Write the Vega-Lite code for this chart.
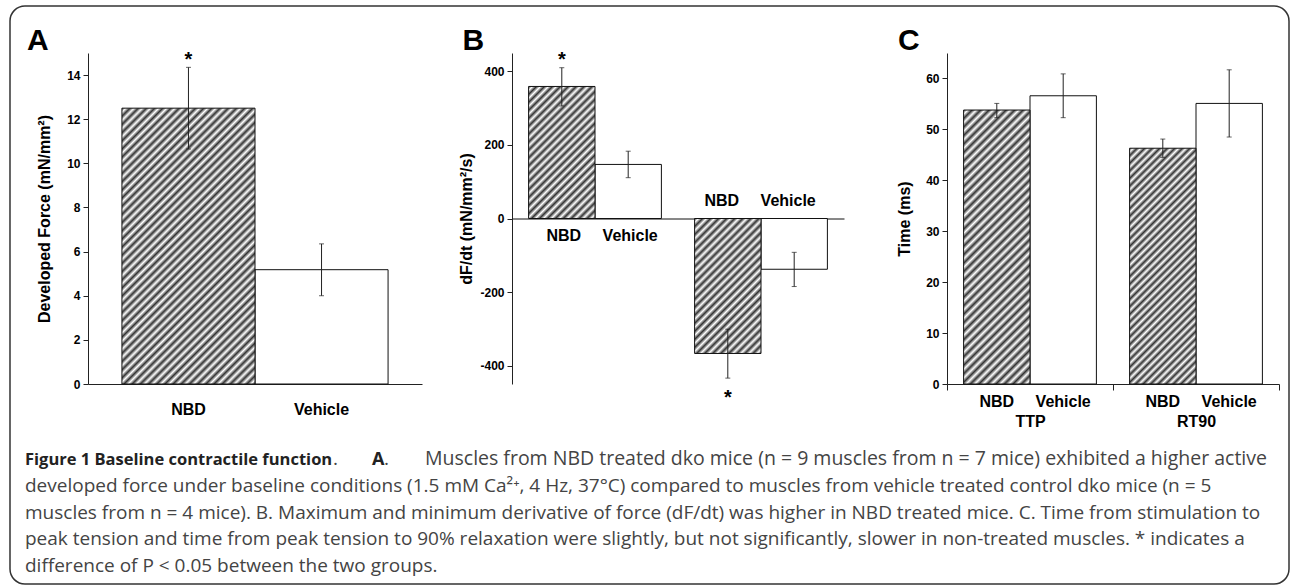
{
  "$schema": "https://vega.github.io/schema/vega-lite/v6.json",
  "width": 1279,
  "height": 578,
  "autosize": {"type": "none"},
  "padding": {"left": 10, "top": 6, "right": 1, "bottom": 1},
  "background": "white",
  "config": {
    "view": {"stroke": "#333", "strokeWidth": 1.5, "cornerRadius": 15},
    "axis": {
      "labelFont": "Liberation Sans", "titleFont": "Liberation Sans",
      "labelFontWeight": "bold", "titleFontWeight": "bold",
      "labelColor": "#000", "titleColor": "#000",
      "domainColor": "#222", "tickColor": "#222",
      "grid": false, "labelFontSize": 12, "titleFontSize": 16
    },
    "text": {"font": "Liberation Sans", "color": "#000"}
  },
  "datasets": {
    "A": [
      {"cond": "NBD", "mean": 12.5, "lo": 10.65, "hi": 14.35},
      {"cond": "Vehicle", "mean": 5.18, "lo": 4.0, "hi": 6.35}
    ],
    "B": [
      {"grp": "max", "cond": "NBD", "mean": 359, "lo": 306, "hi": 410},
      {"grp": "max", "cond": "Vehicle", "mean": 147, "lo": 111, "hi": 183},
      {"grp": "min", "cond": "NBD", "mean": -367, "lo": -434, "hi": -301},
      {"grp": "min", "cond": "Vehicle", "mean": -138, "lo": -185, "hi": -92}
    ],
    "C": [
      {"grp": "TTP", "cond": "NBD", "mean": 53.8, "lo": 52.3, "hi": 55.1},
      {"grp": "TTP", "cond": "Vehicle", "mean": 56.6, "lo": 52.3, "hi": 60.9},
      {"grp": "RT90", "cond": "NBD", "mean": 46.3, "lo": 44.5, "hi": 48.1},
      {"grp": "RT90", "cond": "Vehicle", "mean": 55.1, "lo": 48.5, "hi": 61.7}
    ],
    "letters": [{"p": "A"}, {"p": "B"}, {"p": "C"}],
    "caption": [
      {"line": 1, "seg": "head", "text": "Figure 1 Baseline contractile function"},
      {"line": 1, "seg": "p1", "text": "."},
      {"line": 1, "seg": "bA", "text": "A"},
      {"line": 1, "seg": "p2", "text": "."},
      {"line": 1, "seg": "rest", "text": "Muscles from NBD treated dko mice (n = 9 muscles from n = 7 mice) exhibited a higher active"},
      {"line": 2, "seg": "body", "text": "developed force under baseline conditions (1.5 mM Ca²⁺, 4 Hz, 37°C) compared to muscles from vehicle treated control dko mice (n = 5"},
      {"line": 3, "seg": "body", "text": "muscles from n = 4 mice). B. Maximum and minimum derivative of force (dF/dt) was higher in NBD treated mice. C. Time from stimulation to"},
      {"line": 4, "seg": "body", "text": "peak tension and time from peak tension to 90% relaxation were slightly, but not significantly, slower in non-treated muscles. * indicates a"},
      {"line": 5, "seg": "body", "text": "difference of P < 0.05 between the two groups."}
    ]
  },
  "layer": [
    {
      "data": {"name": "A"},
      "encoding": {
        "x": {"field": "cond", "type": "nominal",
          "scale": {"type": "band", "domain": ["NBD", "Vehicle"], "range": [78, 412], "paddingInner": 0, "paddingOuter": 0.255},
          "axis": {"orient": "bottom", "offset": -200, "title": null, "ticks": false, "tickSize": 0, "labelAngle": 0, "labelFontSize": 16, "labelPadding": 17}},
        "y": {"field": "mean", "type": "quantitative",
          "scale": {"domain": [0, 15], "range": [378, 47], "nice": false},
          "axis": {"orient": "left", "offset": -78, "values": [0, 2, 4, 6, 8, 10, 12, 14], "tickSize": 5, "labelPadding": 3, "title": "Developed Force (mN/mm²)", "titlePadding": 14}}
      },
      "layer": [
        {"transform": [{"filter": "datum.cond === 'Vehicle'"}], "mark": {"type": "bar", "fill": "#fff", "stroke": "#111", "strokeWidth": 1}},
        {"transform": [{"filter": "datum.cond === 'NBD'"}], "mark": {"type": "bar", "stroke": "#111", "strokeWidth": 1,
          "fill": {"gradient": "linear", "x1": 0, "y1": 0, "x2": 0.5795, "y2": 1.2026, "stops": [
            {"offset":0,"color":"#333"},{"offset":0.01,"color":"#fff"},{"offset":0.02,"color":"#333"},{"offset":0.03,"color":"#fff"},{"offset":0.04,"color":"#333"},{"offset":0.05,"color":"#fff"},{"offset":0.06,"color":"#333"},{"offset":0.07,"color":"#fff"},{"offset":0.08,"color":"#333"},{"offset":0.09,"color":"#fff"},
            {"offset":0.1,"color":"#333"},{"offset":0.11,"color":"#fff"},{"offset":0.12,"color":"#333"},{"offset":0.13,"color":"#fff"},{"offset":0.14,"color":"#333"},{"offset":0.15,"color":"#fff"},{"offset":0.16,"color":"#333"},{"offset":0.17,"color":"#fff"},{"offset":0.18,"color":"#333"},{"offset":0.19,"color":"#fff"},
            {"offset":0.2,"color":"#333"},{"offset":0.21,"color":"#fff"},{"offset":0.22,"color":"#333"},{"offset":0.23,"color":"#fff"},{"offset":0.24,"color":"#333"},{"offset":0.25,"color":"#fff"},{"offset":0.26,"color":"#333"},{"offset":0.27,"color":"#fff"},{"offset":0.28,"color":"#333"},{"offset":0.29,"color":"#fff"},
            {"offset":0.3,"color":"#333"},{"offset":0.31,"color":"#fff"},{"offset":0.32,"color":"#333"},{"offset":0.33,"color":"#fff"},{"offset":0.34,"color":"#333"},{"offset":0.35,"color":"#fff"},{"offset":0.36,"color":"#333"},{"offset":0.37,"color":"#fff"},{"offset":0.38,"color":"#333"},{"offset":0.39,"color":"#fff"},
            {"offset":0.4,"color":"#333"},{"offset":0.41,"color":"#fff"},{"offset":0.42,"color":"#333"},{"offset":0.43,"color":"#fff"},{"offset":0.44,"color":"#333"},{"offset":0.45,"color":"#fff"},{"offset":0.46,"color":"#333"},{"offset":0.47,"color":"#fff"},{"offset":0.48,"color":"#333"},{"offset":0.49,"color":"#fff"},
            {"offset":0.5,"color":"#333"},{"offset":0.51,"color":"#fff"},{"offset":0.52,"color":"#333"},{"offset":0.53,"color":"#fff"},{"offset":0.54,"color":"#333"},{"offset":0.55,"color":"#fff"},{"offset":0.56,"color":"#333"},{"offset":0.57,"color":"#fff"},{"offset":0.58,"color":"#333"},{"offset":0.59,"color":"#fff"},
            {"offset":0.6,"color":"#333"},{"offset":0.61,"color":"#fff"},{"offset":0.62,"color":"#333"},{"offset":0.63,"color":"#fff"},{"offset":0.64,"color":"#333"},{"offset":0.65,"color":"#fff"},{"offset":0.66,"color":"#333"},{"offset":0.67,"color":"#fff"},{"offset":0.68,"color":"#333"},{"offset":0.69,"color":"#fff"},
            {"offset":0.7,"color":"#333"},{"offset":0.71,"color":"#fff"},{"offset":0.72,"color":"#333"},{"offset":0.73,"color":"#fff"},{"offset":0.74,"color":"#333"},{"offset":0.75,"color":"#fff"},{"offset":0.76,"color":"#333"},{"offset":0.77,"color":"#fff"},{"offset":0.78,"color":"#333"},{"offset":0.79,"color":"#fff"},
            {"offset":0.8,"color":"#333"},{"offset":0.81,"color":"#fff"},{"offset":0.82,"color":"#333"},{"offset":0.83,"color":"#fff"},{"offset":0.84,"color":"#333"},{"offset":0.85,"color":"#fff"},{"offset":0.86,"color":"#333"},{"offset":0.87,"color":"#fff"},{"offset":0.88,"color":"#333"},{"offset":0.89,"color":"#fff"},
            {"offset":0.9,"color":"#333"},{"offset":0.91,"color":"#fff"},{"offset":0.92,"color":"#333"},{"offset":0.93,"color":"#fff"},{"offset":0.94,"color":"#333"},{"offset":0.95,"color":"#fff"},{"offset":0.96,"color":"#333"},{"offset":0.97,"color":"#fff"},{"offset":0.98,"color":"#333"},{"offset":0.99,"color":"#fff"},
            {"offset":1,"color":"#333"}]}}},
        {"mark": {"type": "rule", "color": "#222", "strokeWidth": 1}, "encoding": {"y": {"field": "lo", "type": "quantitative"}, "y2": {"field": "hi"}}},
        {"mark": {"type": "tick", "color": "#222", "size": 5, "thickness": 1}, "encoding": {"y": {"field": "lo", "type": "quantitative"}}},
        {"mark": {"type": "tick", "color": "#222", "size": 5, "thickness": 1}, "encoding": {"y": {"field": "hi", "type": "quantitative"}}},
        {"transform": [{"filter": "datum.cond === 'NBD'"}], "mark": {"type": "text", "text": "*", "fontSize": 20, "fontWeight": "bold", "baseline": "alphabetic", "dy": -1}, "encoding": {"y": {"field": "hi", "type": "quantitative"}}}
      ]
    },
    {
      "data": {"name": "B"},
      "encoding": {
        "x": {"field": "grp", "type": "nominal",
          "scale": {"type": "band", "domain": ["max", "min"], "range": [502, 834], "paddingInner": 0.2, "paddingOuter": 0.1},
          "axis": {"orient": "bottom", "offset": -365.5, "title": null, "labels": false, "ticks": false, "domainColor": "#111"}},
        "xOffset": {"field": "cond", "type": "nominal", "scale": {"type": "band", "domain": ["NBD", "Vehicle"], "paddingInner": 0, "paddingOuter": 0}},
        "y": {"field": "mean", "type": "quantitative",
          "scale": {"domain": [-450, 450], "range": [378, 47], "nice": false},
          "axis": {"orient": "left", "offset": -502, "values": [-400, -200, 0, 200, 400], "tickSize": 5, "labelPadding": 3, "labelExpr": "datum.value < 0 ? '-' + abs(datum.value) : '' + datum.value", "title": "dF/dt (mN/mm²/s)", "titlePadding": 5}}
      },
      "layer": [
        {"transform": [{"filter": "datum.cond === 'Vehicle'"}], "mark": {"type": "bar", "fill": "#fff", "stroke": "#111", "strokeWidth": 1}},
        {"transform": [{"filter": "datum.cond === 'NBD' && datum.grp === 'max'"}], "mark": {"type": "bar", "stroke": "#111", "strokeWidth": 1,
          "fill": {"gradient": "linear", "x1": 0, "y1": 0, "x2": 0.6034, "y2": 1.1995, "stops": [
            {"offset":0,"color":"#333"},{"offset":0.02,"color":"#fff"},{"offset":0.04,"color":"#333"},{"offset":0.06,"color":"#fff"},{"offset":0.08,"color":"#333"},{"offset":0.1,"color":"#fff"},{"offset":0.12,"color":"#333"},{"offset":0.14,"color":"#fff"},{"offset":0.16,"color":"#333"},{"offset":0.18,"color":"#fff"},
            {"offset":0.2,"color":"#333"},{"offset":0.22,"color":"#fff"},{"offset":0.24,"color":"#333"},{"offset":0.26,"color":"#fff"},{"offset":0.28,"color":"#333"},{"offset":0.3,"color":"#fff"},{"offset":0.32,"color":"#333"},{"offset":0.34,"color":"#fff"},{"offset":0.36,"color":"#333"},{"offset":0.38,"color":"#fff"},
            {"offset":0.4,"color":"#333"},{"offset":0.42,"color":"#fff"},{"offset":0.44,"color":"#333"},{"offset":0.46,"color":"#fff"},{"offset":0.48,"color":"#333"},{"offset":0.5,"color":"#fff"},{"offset":0.52,"color":"#333"},{"offset":0.54,"color":"#fff"},{"offset":0.56,"color":"#333"},{"offset":0.58,"color":"#fff"},
            {"offset":0.6,"color":"#333"},{"offset":0.62,"color":"#fff"},{"offset":0.64,"color":"#333"},{"offset":0.66,"color":"#fff"},{"offset":0.68,"color":"#333"},{"offset":0.7,"color":"#fff"},{"offset":0.72,"color":"#333"},{"offset":0.74,"color":"#fff"},{"offset":0.76,"color":"#333"},{"offset":0.78,"color":"#fff"},
            {"offset":0.8,"color":"#333"},{"offset":0.82,"color":"#fff"},{"offset":0.84,"color":"#333"},{"offset":0.86,"color":"#fff"},{"offset":0.88,"color":"#333"},{"offset":0.9,"color":"#fff"},{"offset":0.92,"color":"#333"},{"offset":0.94,"color":"#fff"},{"offset":0.96,"color":"#333"},{"offset":0.98,"color":"#fff"},
            {"offset":1,"color":"#333"}]}}},
        {"transform": [{"filter": "datum.cond === 'NBD' && datum.grp === 'min'"}], "mark": {"type": "bar", "stroke": "#111", "strokeWidth": 1,
          "fill": {"gradient": "linear", "x1": 0, "y1": 0, "x2": 0.5925, "y2": 1.2011, "stops": [
            {"offset":0,"color":"#333"},{"offset":0.02,"color":"#fff"},{"offset":0.04,"color":"#333"},{"offset":0.06,"color":"#fff"},{"offset":0.08,"color":"#333"},{"offset":0.1,"color":"#fff"},{"offset":0.12,"color":"#333"},{"offset":0.14,"color":"#fff"},{"offset":0.16,"color":"#333"},{"offset":0.18,"color":"#fff"},
            {"offset":0.2,"color":"#333"},{"offset":0.22,"color":"#fff"},{"offset":0.24,"color":"#333"},{"offset":0.26,"color":"#fff"},{"offset":0.28,"color":"#333"},{"offset":0.3,"color":"#fff"},{"offset":0.32,"color":"#333"},{"offset":0.34,"color":"#fff"},{"offset":0.36,"color":"#333"},{"offset":0.38,"color":"#fff"},
            {"offset":0.4,"color":"#333"},{"offset":0.42,"color":"#fff"},{"offset":0.44,"color":"#333"},{"offset":0.46,"color":"#fff"},{"offset":0.48,"color":"#333"},{"offset":0.5,"color":"#fff"},{"offset":0.52,"color":"#333"},{"offset":0.54,"color":"#fff"},{"offset":0.56,"color":"#333"},{"offset":0.58,"color":"#fff"},
            {"offset":0.6,"color":"#333"},{"offset":0.62,"color":"#fff"},{"offset":0.64,"color":"#333"},{"offset":0.66,"color":"#fff"},{"offset":0.68,"color":"#333"},{"offset":0.7,"color":"#fff"},{"offset":0.72,"color":"#333"},{"offset":0.74,"color":"#fff"},{"offset":0.76,"color":"#333"},{"offset":0.78,"color":"#fff"},
            {"offset":0.8,"color":"#333"},{"offset":0.82,"color":"#fff"},{"offset":0.84,"color":"#333"},{"offset":0.86,"color":"#fff"},{"offset":0.88,"color":"#333"},{"offset":0.9,"color":"#fff"},{"offset":0.92,"color":"#333"},{"offset":0.94,"color":"#fff"},{"offset":0.96,"color":"#333"},{"offset":0.98,"color":"#fff"},
            {"offset":1,"color":"#333"}]}}},
        {"mark": {"type": "rule", "color": "#222", "strokeWidth": 1}, "encoding": {"y": {"field": "lo", "type": "quantitative"}, "y2": {"field": "hi"}}},
        {"mark": {"type": "tick", "color": "#222", "size": 5, "thickness": 1}, "encoding": {"y": {"field": "lo", "type": "quantitative"}}},
        {"mark": {"type": "tick", "color": "#222", "size": 5, "thickness": 1}, "encoding": {"y": {"field": "hi", "type": "quantitative"}}},
        {"transform": [{"filter": "datum.cond === 'NBD' && datum.grp === 'max'"}], "mark": {"type": "text", "text": "*", "fontSize": 20, "fontWeight": "bold", "baseline": "alphabetic", "dy": -2}, "encoding": {"y": {"field": "hi", "type": "quantitative"}}},
        {"transform": [{"filter": "datum.cond === 'NBD' && datum.grp === 'min'"}], "mark": {"type": "text", "text": "*", "fontSize": 20, "fontWeight": "bold", "baseline": "alphabetic", "dy": 26}, "encoding": {"y": {"field": "lo", "type": "quantitative"}}},
        {"transform": [{"filter": "datum.grp === 'max'"}], "mark": {"type": "text", "fontSize": 16, "fontWeight": "bold", "baseline": "alphabetic", "dy": 22, "dx": 2}, "encoding": {"text": {"field": "cond"}, "y": {"datum": 0}}},
        {"transform": [{"filter": "datum.grp === 'min'"}], "mark": {"type": "text", "fontSize": 16, "fontWeight": "bold", "baseline": "alphabetic", "dy": -13, "dx": -6}, "encoding": {"text": {"field": "cond"}, "y": {"datum": 0}}}
      ]
    },
    {
      "data": {"name": "C"},
      "encoding": {
        "x": {"field": "grp", "type": "nominal",
          "scale": {"type": "band", "domain": ["TTP", "RT90"], "range": [937, 1269], "paddingInner": 0, "paddingOuter": 0},
          "axis": {"orient": "bottom", "offset": -200, "title": null, "tickBand": "extent", "ticks": true, "tickSize": 6, "labelAngle": 0, "labelFontSize": 16, "labelPadding": 23}},
        "xOffset": {"field": "cond", "type": "nominal", "scale": {"type": "band", "domain": ["NBD", "Vehicle"], "paddingInner": 0, "paddingOuter": 0.25}},
        "y": {"field": "mean", "type": "quantitative",
          "scale": {"domain": [0, 65], "range": [378, 47], "nice": false},
          "axis": {"orient": "left", "offset": -937, "values": [0, 10, 20, 30, 40, 50, 60], "tickSize": 5, "labelPadding": 3, "title": "Time (ms)", "titlePadding": 13}}
      },
      "layer": [
        {"transform": [{"filter": "datum.cond === 'Vehicle'"}], "mark": {"type": "bar", "fill": "#fff", "stroke": "#111", "strokeWidth": 1}},
        {"transform": [{"filter": "datum.cond === 'NBD' && datum.grp === 'TTP'"}], "mark": {"type": "bar", "stroke": "#111", "strokeWidth": 1,
          "fill": {"gradient": "linear", "x1": 0, "y1": 0, "x2": 0.2844, "y2": 1.1735, "stops": [
            {"offset":0,"color":"#333"},{"offset":0.0125,"color":"#fff"},{"offset":0.025,"color":"#333"},{"offset":0.0375,"color":"#fff"},{"offset":0.05,"color":"#333"},{"offset":0.0625,"color":"#fff"},{"offset":0.075,"color":"#333"},{"offset":0.0875,"color":"#fff"},
            {"offset":0.1,"color":"#333"},{"offset":0.1125,"color":"#fff"},{"offset":0.125,"color":"#333"},{"offset":0.1375,"color":"#fff"},{"offset":0.15,"color":"#333"},{"offset":0.1625,"color":"#fff"},{"offset":0.175,"color":"#333"},{"offset":0.1875,"color":"#fff"},
            {"offset":0.2,"color":"#333"},{"offset":0.2125,"color":"#fff"},{"offset":0.225,"color":"#333"},{"offset":0.2375,"color":"#fff"},{"offset":0.25,"color":"#333"},{"offset":0.2625,"color":"#fff"},{"offset":0.275,"color":"#333"},{"offset":0.2875,"color":"#fff"},
            {"offset":0.3,"color":"#333"},{"offset":0.3125,"color":"#fff"},{"offset":0.325,"color":"#333"},{"offset":0.3375,"color":"#fff"},{"offset":0.35,"color":"#333"},{"offset":0.3625,"color":"#fff"},{"offset":0.375,"color":"#333"},{"offset":0.3875,"color":"#fff"},
            {"offset":0.4,"color":"#333"},{"offset":0.4125,"color":"#fff"},{"offset":0.425,"color":"#333"},{"offset":0.4375,"color":"#fff"},{"offset":0.45,"color":"#333"},{"offset":0.4625,"color":"#fff"},{"offset":0.475,"color":"#333"},{"offset":0.4875,"color":"#fff"},
            {"offset":0.5,"color":"#333"},{"offset":0.5125,"color":"#fff"},{"offset":0.525,"color":"#333"},{"offset":0.5375,"color":"#fff"},{"offset":0.55,"color":"#333"},{"offset":0.5625,"color":"#fff"},{"offset":0.575,"color":"#333"},{"offset":0.5875,"color":"#fff"},
            {"offset":0.6,"color":"#333"},{"offset":0.6125,"color":"#fff"},{"offset":0.625,"color":"#333"},{"offset":0.6375,"color":"#fff"},{"offset":0.65,"color":"#333"},{"offset":0.6625,"color":"#fff"},{"offset":0.675,"color":"#333"},{"offset":0.6875,"color":"#fff"},
            {"offset":0.7,"color":"#333"},{"offset":0.7125,"color":"#fff"},{"offset":0.725,"color":"#333"},{"offset":0.7375,"color":"#fff"},{"offset":0.75,"color":"#333"},{"offset":0.7625,"color":"#fff"},{"offset":0.775,"color":"#333"},{"offset":0.7875,"color":"#fff"},
            {"offset":0.8,"color":"#333"},{"offset":0.8125,"color":"#fff"},{"offset":0.825,"color":"#333"},{"offset":0.8375,"color":"#fff"},{"offset":0.85,"color":"#333"},{"offset":0.8625,"color":"#fff"},{"offset":0.875,"color":"#333"},{"offset":0.8875,"color":"#fff"},
            {"offset":0.9,"color":"#333"},{"offset":0.9125,"color":"#fff"},{"offset":0.925,"color":"#333"},{"offset":0.9375,"color":"#fff"},{"offset":0.95,"color":"#333"},{"offset":0.9625,"color":"#fff"},{"offset":0.975,"color":"#333"},{"offset":0.9875,"color":"#fff"},
            {"offset":1,"color":"#333"}]}}},
        {"transform": [{"filter": "datum.cond === 'NBD' && datum.grp === 'RT90'"}], "mark": {"type": "bar", "stroke": "#111", "strokeWidth": 1,
          "fill": {"gradient": "linear", "x1": 0, "y1": 0, "x2": 0.3344, "y2": 1.1875, "stops": [
            {"offset":0,"color":"#333"},{"offset":0.0125,"color":"#fff"},{"offset":0.025,"color":"#333"},{"offset":0.0375,"color":"#fff"},{"offset":0.05,"color":"#333"},{"offset":0.0625,"color":"#fff"},{"offset":0.075,"color":"#333"},{"offset":0.0875,"color":"#fff"},
            {"offset":0.1,"color":"#333"},{"offset":0.1125,"color":"#fff"},{"offset":0.125,"color":"#333"},{"offset":0.1375,"color":"#fff"},{"offset":0.15,"color":"#333"},{"offset":0.1625,"color":"#fff"},{"offset":0.175,"color":"#333"},{"offset":0.1875,"color":"#fff"},
            {"offset":0.2,"color":"#333"},{"offset":0.2125,"color":"#fff"},{"offset":0.225,"color":"#333"},{"offset":0.2375,"color":"#fff"},{"offset":0.25,"color":"#333"},{"offset":0.2625,"color":"#fff"},{"offset":0.275,"color":"#333"},{"offset":0.2875,"color":"#fff"},
            {"offset":0.3,"color":"#333"},{"offset":0.3125,"color":"#fff"},{"offset":0.325,"color":"#333"},{"offset":0.3375,"color":"#fff"},{"offset":0.35,"color":"#333"},{"offset":0.3625,"color":"#fff"},{"offset":0.375,"color":"#333"},{"offset":0.3875,"color":"#fff"},
            {"offset":0.4,"color":"#333"},{"offset":0.4125,"color":"#fff"},{"offset":0.425,"color":"#333"},{"offset":0.4375,"color":"#fff"},{"offset":0.45,"color":"#333"},{"offset":0.4625,"color":"#fff"},{"offset":0.475,"color":"#333"},{"offset":0.4875,"color":"#fff"},
            {"offset":0.5,"color":"#333"},{"offset":0.5125,"color":"#fff"},{"offset":0.525,"color":"#333"},{"offset":0.5375,"color":"#fff"},{"offset":0.55,"color":"#333"},{"offset":0.5625,"color":"#fff"},{"offset":0.575,"color":"#333"},{"offset":0.5875,"color":"#fff"},
            {"offset":0.6,"color":"#333"},{"offset":0.6125,"color":"#fff"},{"offset":0.625,"color":"#333"},{"offset":0.6375,"color":"#fff"},{"offset":0.65,"color":"#333"},{"offset":0.6625,"color":"#fff"},{"offset":0.675,"color":"#333"},{"offset":0.6875,"color":"#fff"},
            {"offset":0.7,"color":"#333"},{"offset":0.7125,"color":"#fff"},{"offset":0.725,"color":"#333"},{"offset":0.7375,"color":"#fff"},{"offset":0.75,"color":"#333"},{"offset":0.7625,"color":"#fff"},{"offset":0.775,"color":"#333"},{"offset":0.7875,"color":"#fff"},
            {"offset":0.8,"color":"#333"},{"offset":0.8125,"color":"#fff"},{"offset":0.825,"color":"#333"},{"offset":0.8375,"color":"#fff"},{"offset":0.85,"color":"#333"},{"offset":0.8625,"color":"#fff"},{"offset":0.875,"color":"#333"},{"offset":0.8875,"color":"#fff"},
            {"offset":0.9,"color":"#333"},{"offset":0.9125,"color":"#fff"},{"offset":0.925,"color":"#333"},{"offset":0.9375,"color":"#fff"},{"offset":0.95,"color":"#333"},{"offset":0.9625,"color":"#fff"},{"offset":0.975,"color":"#333"},{"offset":0.9875,"color":"#fff"},
            {"offset":1,"color":"#333"}]}}},
        {"mark": {"type": "rule", "color": "#222", "strokeWidth": 1}, "encoding": {"y": {"field": "lo", "type": "quantitative"}, "y2": {"field": "hi"}}},
        {"mark": {"type": "tick", "color": "#222", "size": 5, "thickness": 1}, "encoding": {"y": {"field": "lo", "type": "quantitative"}}},
        {"mark": {"type": "tick", "color": "#222", "size": 5, "thickness": 1}, "encoding": {"y": {"field": "hi", "type": "quantitative"}}},
        {"mark": {"type": "text", "fontSize": 16, "fontWeight": "bold", "baseline": "alphabetic", "dy": 23}, "encoding": {"text": {"field": "cond"}, "y": {"datum": 0}}}
      ]
    },
    {
      "data": {"name": "letters"},
      "mark": {"type": "text", "fontSize": 30, "fontWeight": "bold", "align": "left", "baseline": "alphabetic"},
      "encoding": {
        "text": {"field": "p"},
        "x": {"field": "p", "type": "nominal", "scale": {"type": "point", "range": [17, 888], "padding": 0}, "axis": null},
        "y": {"datum": 0, "type": "quantitative", "scale": {"domain": [0, 1], "range": [44, 0]}, "axis": null}
      }
    },
    {
      "data": {"name": "caption"},
      "encoding": {
        "x": {"datum": 0, "type": "quantitative", "scale": {"domain": [0, 1], "range": [15, 1269]}, "axis": null},
        "y": {"field": "line", "type": "ordinal", "scale": {"type": "point", "domain": [1, 2, 3, 4, 5], "range": [459, 566], "padding": 0}, "axis": null},
        "text": {"field": "text"}
      },
      "layer": [
        {"transform": [{"filter": "datum.seg === 'head'"}], "mark": {"type": "text", "font": "Open Sans", "fontWeight": "bold", "fontSize": 16.5, "color": "#222", "align": "left", "baseline": "alphabetic"}},
        {"transform": [{"filter": "datum.seg === 'p1'"}], "mark": {"type": "text", "font": "Open Sans", "fontSize": 19, "color": "#444", "align": "left", "baseline": "alphabetic", "dx": 308}},
        {"transform": [{"filter": "datum.seg === 'bA'"}], "mark": {"type": "text", "font": "Open Sans", "fontWeight": "bold", "fontSize": 18, "color": "#222", "align": "left", "baseline": "alphabetic", "dx": 347}},
        {"transform": [{"filter": "datum.seg === 'p2'"}], "mark": {"type": "text", "font": "Open Sans", "fontSize": 19, "color": "#444", "align": "left", "baseline": "alphabetic", "dx": 359}},
        {"transform": [{"filter": "datum.seg === 'rest'"}], "mark": {"type": "text", "font": "Open Sans", "fontSize": 19.5, "color": "#444", "align": "left", "baseline": "alphabetic", "dx": 400}},
        {"transform": [{"filter": "datum.seg === 'body'"}], "mark": {"type": "text", "font": "Open Sans", "fontSize": 19, "color": "#444", "align": "left", "baseline": "alphabetic"}}
      ]
    }
  ],
  "resolve": {
    "scale": {"x": "independent", "y": "independent", "xOffset": "independent"},
    "axis": {"x": "independent", "y": "independent"}
  }
}
